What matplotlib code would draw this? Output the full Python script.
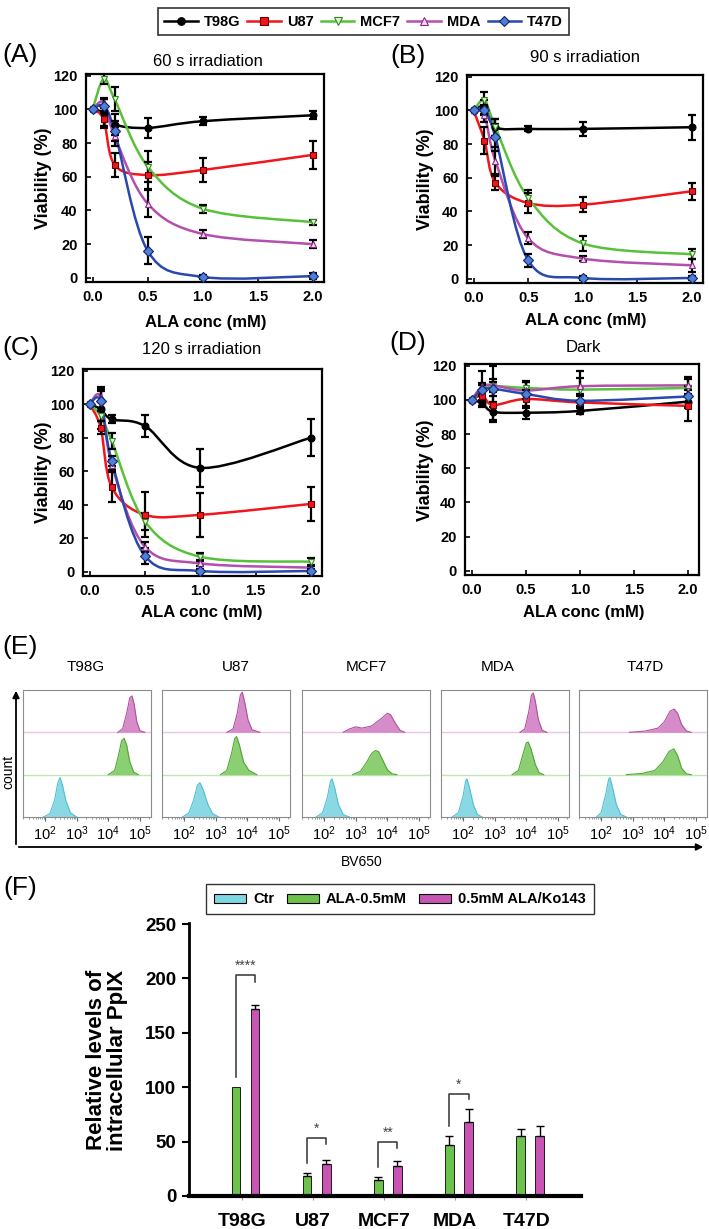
import numpy as np
import matplotlib
matplotlib.use('Agg')
import matplotlib.pyplot as plt
from matplotlib.path import Path
from matplotlib.patches import PathPatch, Patch, FancyArrowPatch
from matplotlib.lines import Line2D
from matplotlib.ticker import FormatStrFormatter, LogLocator, NullFormatter

plt.rcParams['font.family'] = ['Liberation Sans', 'DejaVu Sans']
plt.rcParams['mathtext.fontset'] = 'custom'
plt.rcParams['mathtext.rm'] = 'Liberation Sans'
plt.rcParams['mathtext.it'] = 'Liberation Sans:italic'
plt.rcParams['mathtext.bf'] = 'Liberation Sans:bold'

# ---------------- data ----------------
cell_lines = ['T98G', 'U87', 'MCF7', 'MDA', 'T47D']
ala_conc = [0.0, 0.1, 0.2, 0.5, 1.0, 2.0]

# viability (%), rows follow cell_lines
viab_60s = [
    [100, 98, 91, 89, 93, 96.5],
    [100, 94, 67, 61, 64, 73],
    [100, 118, 106, 66, 41, 33],
    [100, 104, 84, 44, 26, 20],
    [100, 102, 87, 16, 0.5, 1],
]
err_60s = [
    [0, 8, 6, 6, 2.5, 2.5],
    [0, 5, 7, 8, 7, 8.5],
    [0, 3, 7, 9, 2.5, 1.5],
    [0, 3, 6, 8, 2.5, 2.5],
    [0, 4, 6, 8, 1, 2],
]
viab_90s = [
    [100, 102, 90, 89, 89, 90],
    [100, 82, 57, 45, 44, 52],
    [100, 106, 90, 48, 21, 14.5],
    [100, 97, 70, 24, 12, 8],
    [100, 100, 84, 11, 0.5, 0.5],
]
err_90s = [
    [0, 4, 5, 1.5, 4, 7.5],
    [0, 8, 4, 6, 4.5, 5],
    [0, 5, 5, 5, 4.5, 3],
    [0, 4, 8, 3.5, 1.5, 4],
    [0, 3, 8, 4, 1, 1],
]
viab_120s = [
    [100, 97, 91, 87, 62, 80],
    [100, 86, 50.5, 34, 34, 40.5],
    [100, 93, 78, 30, 9, 6],
    [100, 104, 64, 15, 5, 2.5],
    [100, 102, 66, 9.5, 0.5, 0.5],
]
err_120s = [
    [0, 12, 2.5, 6.5, 11.5, 11],
    [0, 4, 9, 13.5, 13, 10],
    [0, 3, 5, 5, 2, 2.5],
    [0, 6, 3, 3, 1.5, 1.5],
    [0, 6, 3, 5, 1, 1],
]
viab_dark = [
    [100, 98, 93, 92.5, 93.5, 99],
    [100, 102.5, 97, 100.5, 98.5, 96.5],
    [100, 106, 108, 107, 106, 107],
    [100, 108, 108.5, 105.5, 108, 108.5],
    [100, 106, 106.5, 103.5, 99.5, 102],
]
err_dark = [
    [0, 2, 6, 3.5, 2, 4],
    [0, 6, 9, 5, 5, 9],
    [0, 4, 12, 4, 7, 5],
    [0, 9, 4, 5, 9, 5],
    [0, 3, 4, 7, 3, 6],
]
panel_titles = ['60 s irradiation', '90 s irradiation', '120 s irradiation', 'Dark']

# flow cytometry histograms: (log10 BV650, relative count)
hist_ctr = [
    [(1.95, 0), (2.15, 0.08), (2.3, 0.4), (2.4, 0.8), (2.47, 0.93), (2.55, 0.75), (2.65, 0.4), (2.8, 0.1), (3.0, 0)],
    [(1.95, 0), (2.15, 0.1), (2.3, 0.4), (2.42, 0.75), (2.5, 0.81), (2.6, 0.65), (2.75, 0.3), (2.9, 0.08), (3.1, 0)],
    [(1.75, 0), (1.95, 0.1), (2.1, 0.45), (2.2, 0.85), (2.25, 0.9), (2.33, 0.7), (2.45, 0.3), (2.6, 0.06), (2.8, 0)],
    [(1.65, 0), (1.85, 0.1), (2.0, 0.5), (2.08, 0.85), (2.12, 0.9), (2.2, 0.7), (2.32, 0.3), (2.45, 0.06), (2.6, 0)],
    [(1.85, 0), (2.0, 0.1), (2.15, 0.55), (2.24, 0.9), (2.28, 0.93), (2.36, 0.7), (2.48, 0.3), (2.62, 0.06), (2.8, 0)],
]
hist_ala = [
    [(4.0, 0), (4.2, 0.1), (4.32, 0.45), (4.42, 0.8), (4.5, 0.86), (4.58, 0.7), (4.68, 0.3), (4.8, 0.06), (4.95, 0)],
    [(3.15, 0), (3.35, 0.1), (3.5, 0.5), (3.6, 0.85), (3.66, 0.9), (3.75, 0.7), (3.88, 0.3), (4.05, 0.1), (4.3, 0)],
    [(2.9, 0), (3.15, 0.08), (3.35, 0.3), (3.5, 0.5), (3.62, 0.57), (3.72, 0.55), (3.85, 0.35), (4.0, 0.12), (4.15, 0.02), (4.3, 0)],
    [(3.55, 0), (3.75, 0.1), (3.9, 0.5), (4.0, 0.75), (4.06, 0.77), (4.15, 0.6), (4.28, 0.25), (4.4, 0.05), (4.55, 0)],
    [(2.8, 0), (3.3, 0.03), (3.7, 0.1), (3.95, 0.3), (4.15, 0.55), (4.3, 0.61), (4.42, 0.45), (4.55, 0.15), (4.7, 0.02), (4.85, 0)],
]
hist_ko = [
    [(4.3, 0), (4.45, 0.08), (4.58, 0.45), (4.68, 0.82), (4.75, 0.86), (4.82, 0.65), (4.9, 0.25), (5.0, 0.04), (5.15, 0)],
    [(3.35, 0), (3.55, 0.08), (3.68, 0.45), (3.78, 0.88), (3.84, 0.95), (3.92, 0.7), (4.02, 0.3), (4.15, 0.06), (4.4, 0)],
    [(2.6, 0), (2.8, 0.08), (3.0, 0.13), (3.2, 0.1), (3.5, 0.15), (3.8, 0.32), (4.0, 0.45), (4.1, 0.42), (4.25, 0.22), (4.4, 0.05), (4.55, 0)],
    [(3.8, 0), (3.95, 0.08), (4.08, 0.5), (4.16, 0.88), (4.22, 0.93), (4.28, 0.75), (4.38, 0.3), (4.5, 0.05), (4.65, 0)],
    [(2.9, 0), (3.4, 0.03), (3.8, 0.1), (4.0, 0.25), (4.18, 0.5), (4.31, 0.55), (4.42, 0.45), (4.55, 0.18), (4.7, 0.03), (4.85, 0)],
]

# relative intracellular PpIX (panel F)
ppix_ctr = [0.5, 1.2, 0.5, 0.5, 0.5]
ppix_ala = [100, 18, 15, 47, 55.5]
ppix_ala_err = [0, 3, 2.5, 8, 6.5]
ppix_ko = [172, 29, 27.5, 68, 55]
ppix_ko_err = [4, 4, 4.5, 12, 9]
sig_marks = ['****', '*', '**', '*']
sig_top = [203, 53.5, 50, 94]

# ---------------- layout helpers (pixel based) ----------------
W, H = 709, 1229


def fx(x):
    return x / W


def fy(y):
    return 1 - y / H


def box(l, t, r, b):
    return [fx(l), fy(b), (r - l) / W, (b - t) / H]


def smooth_path(x, y):
    """Smoothed line through the points (cubic Bezier, like a spreadsheet 'smooth line')."""
    pts = np.column_stack([x, y]).astype(float)
    n = len(pts)
    verts = [pts[0]]
    codes = [Path.MOVETO]
    for i in range(n - 1):
        p0 = pts[max(i - 1, 0)]
        p1 = pts[i]
        p2 = pts[i + 1]
        p3 = pts[min(i + 2, n - 1)]
        verts += [p1 + (p2 - p0) / 6, p2 - (p3 - p1) / 6, p2]
        codes += [Path.CURVE4] * 3
    return Path(verts, codes)


series_style = [
    dict(color='black', marker='o', mfc='black', mec='black'),
    dict(color='#f0161c', marker='s', mfc='#f0161c', mec='#6b0000'),
    dict(color='#58c13a', marker='v', mfc='#e2f4d8', mec='#2e8a1e'),
    dict(color='#b34fae', marker='^', mfc='#f3d6f0', mec='#8a2c86'),
    dict(color='#2a48ad', marker='D', mfc='#4d7fd6', mec='#13226e'),
]


def draw_viability(ax, values, errors):
    for vals, st in zip(values, series_style):
        ax.add_patch(PathPatch(smooth_path(ala_conc, vals), fill=False,
                               edgecolor=st['color'], lw=1.8, zorder=2))
    for vals, errs in zip(values, errors):
        x = [a for a, e in zip(ala_conc, errs) if e > 0]
        y = [v for v, e in zip(vals, errs) if e > 0]
        e = [e for e in errs if e > 0]
        ax.errorbar(x, y, yerr=e, fmt='none', ecolor='black', elinewidth=1.6,
                    capsize=3, capthick=1.6, zorder=3)
    for vals, st in zip(values, series_style):
        ax.plot(ala_conc, vals, ls='none', marker=st['marker'], ms=5,
                mfc=st['mfc'], mec=st['mec'], mew=0.8, zorder=4)
    ax.set_xlim(-0.06, 2.1)
    ax.set_ylim(-2.5, 121)
    ax.set_xticks([0, 0.5, 1.0, 1.5, 2.0])
    ax.xaxis.set_major_formatter(FormatStrFormatter('%.1f'))
    ax.set_yticks(range(0, 121, 20))
    ax.tick_params(direction='in', length=3.5, width=1.2, labelsize=10.5, pad=6)
    for lab in ax.get_xticklabels() + ax.get_yticklabels():
        lab.set_fontweight('bold')
    for sp in ax.spines.values():
        sp.set_linewidth(1.6)


fig = plt.figure(figsize=(W / 100, H / 100), dpi=100)

# ---------------- panels A-D ----------------
viab_boxes = [(86, 74, 324, 282), (467, 75, 703, 283), (83, 369, 322, 576), (465, 364, 699, 575)]
viab_sets = [(viab_60s, err_60s), (viab_90s, err_90s), (viab_120s, err_120s), (viab_dark, err_dark)]
for bx, (vals, errs) in zip(viab_boxes, viab_sets):
    ax = fig.add_axes(box(*bx))
    draw_viability(ax, vals, errs)

for (x, y), t in zip([(208, 62), (585, 58), (202, 350), (583, 348)], panel_titles):
    fig.text(fx(x), fy(y), t, fontsize=12, ha='center', va='center')
for x, y in [(43, 178), (426, 179), (43, 472), (426, 470)]:
    fig.text(fx(x), fy(y), 'Viability (%)', fontsize=13, fontweight='bold',
             rotation=90, ha='center', va='center')
for x, y in [(206, 322), (586, 320), (202, 613), (584, 613)]:
    fig.text(fx(x), fy(y), 'ALA conc (mM)', fontsize=12, fontweight='bold',
             ha='center', va='center')
for (x, y), t in zip([(20, 55), (408, 56), (21, 348), (408, 343), (20, 647), (20, 888)],
                     ['(A)', '(B)', '(C)', '(D)', '(E)', '(F)']):
    fig.text(fx(x), fy(y), t, fontsize=19, ha='center', va='center')

handles = [Line2D([], [], color=st['color'], marker=st['marker'], ms=5.5, lw=1.8,
                  mfc=st['mfc'], mec=st['mec'], mew=0.8) for st in series_style]
leg = fig.legend(handles, cell_lines, loc='upper center', bbox_to_anchor=(fx(363.5), fy(1)),
                 ncol=5, prop={'weight': 'bold', 'size': 10.5}, frameon=True, fancybox=False,
                 edgecolor='black', handlelength=2.3, handletextpad=0.4, columnspacing=0.5,
                 borderpad=0.45)
leg.get_frame().set_linewidth(1.2)

# ---------------- panel E ----------------
row_fill = ['#8ad8e4', '#8ccf72', '#d68cc8']
row_edge = ['#4fc0d2', '#4fa635', '#b0509e']
box_lefts = [23, 162, 302, 441, 579]
label_x = [86, 236, 366, 498, 645]
for i, left in enumerate(box_lefts):
    ax = fig.add_axes(box(left, 690, left + 128, 817))
    ax.set_xscale('log')
    ax.axhline(1, color='#c3e6b5', lw=1.0, zorder=1)
    ax.axhline(2, color='#eec3e6', lw=1.0, zorder=1)
    for base, hist in enumerate([hist_ctr[i], hist_ala[i], hist_ko[i]]):
        lx = np.array([p[0] for p in hist])
        hv = np.array([p[1] for p in hist])
        ax.fill_between(10 ** lx, base, base + hv, color=row_fill[base], lw=0, zorder=2)
        ax.plot(10 ** lx, base + hv, color=row_edge[base], lw=0.8, zorder=3)
    ax.set_xlim(10 ** 1.3, 10 ** 5.35)
    ax.set_ylim(0, 3)
    ax.set_yticks([])
    ax.xaxis.set_major_locator(LogLocator(base=10, numticks=10))
    ax.xaxis.set_minor_locator(LogLocator(base=10, subs=np.arange(2, 10), numticks=10))
    ax.xaxis.set_minor_formatter(NullFormatter())
    ax.tick_params(axis='x', which='major', direction='out', length=3, width=0.8,
                   color='#666666', labelsize=10.5, pad=2)
    ax.tick_params(axis='x', which='minor', direction='out', length=1.5, width=0.6,
                   color='#888888')
    for sp in ax.spines.values():
        sp.set_color('#8c8c8c')
        sp.set_linewidth(0.8)
    fig.text(fx(label_x[i]), fy(667), cell_lines[i], fontsize=11, ha='center', va='center')

fig.add_artist(FancyArrowPatch((fx(16), fy(847)), (fx(16), fy(688)), transform=fig.transFigure,
                               arrowstyle='-|>', mutation_scale=10, lw=1.3, color='black'))
fig.add_artist(FancyArrowPatch((fx(16), fy(847)), (fx(706), fy(847)), transform=fig.transFigure,
                               arrowstyle='-|>', mutation_scale=10, lw=1.3, color='black'))
fig.text(fx(8), fy(772), 'count', fontsize=10, rotation=90, ha='center', va='center')
fig.text(fx(362), fy(862), 'BV650', fontsize=10, ha='center', va='center')

# ---------------- panel F ----------------
axf = fig.add_axes(box(189, 923, 581, 1196))
idx = np.arange(len(cell_lines))
bar_w = 0.12
offsets = [-0.36, -0.08, 0.19]
colors_f = ['#7fd6e3', '#6cc24a', '#c855b4']
axf.bar(idx + offsets[0], ppix_ctr, bar_w, color=colors_f[0], edgecolor='black', lw=0.6, zorder=2)
axf.bar(idx + offsets[1], ppix_ala, bar_w, color=colors_f[1], edgecolor='black', lw=0.6, zorder=2)
axf.bar(idx + offsets[2], ppix_ko, bar_w, color=colors_f[2], edgecolor='black', lw=0.6, zorder=2)
for off, vals, errs in [(offsets[1], ppix_ala, ppix_ala_err), (offsets[2], ppix_ko, ppix_ko_err)]:
    keep = [j for j, e in enumerate(errs) if e > 0]
    axf.errorbar(idx[keep] + off, [vals[j] for j in keep],
                 yerr=[[0] * len(keep), [errs[j] for j in keep]],
                 fmt='none', ecolor='black', elinewidth=1.0, capsize=3, capthick=1.0, zorder=3)

for j, (mark, top) in enumerate(zip(sig_marks, sig_top)):
    xl = j + offsets[1]
    xr = j + offsets[2]
    left_end = ppix_ala[j] + ppix_ala_err[j] + 9
    right_end = max(ppix_ko[j] + ppix_ko_err[j] + 9, top - 6)
    axf.plot([xl, xl, xr, xr], [left_end, top, top, right_end], color='#333333', lw=1.1, zorder=3)
    axf.text((xl + xr) / 2, top + 2, mark, fontsize=10, color='#444444', ha='center', va='bottom')

axf.set_xlim(-0.74, 4.77)
axf.set_ylim(0, 251)
axf.set_yticks(range(0, 251, 50))
axf.set_xticks(idx)
axf.set_xticklabels(cell_lines)
axf.spines['top'].set_visible(False)
axf.spines['right'].set_visible(False)
axf.spines['left'].set_linewidth(2.0)
axf.spines['bottom'].set_linewidth(3.0)
axf.tick_params(axis='y', direction='out', length=5, width=1.5, labelsize=13.5, pad=4)
axf.tick_params(axis='x', direction='out', length=3, width=0.8, color='#999999',
                labelsize=14, pad=9)
for lab in axf.get_xticklabels() + axf.get_yticklabels():
    lab.set_fontweight('bold')
fig.text(fx(107), fy(1060), 'Relative levels of\nintracellular PpIX', fontsize=16,
         fontweight='bold', rotation=90, ha='center', va='center', linespacing=1.0)

f_handles = [Patch(facecolor=c, edgecolor='black', lw=0.8) for c in colors_f]
leg_f = fig.legend(f_handles, ['Ctr', 'ALA-0.5mM', '0.5mM ALA/Ko143'], loc='upper center',
                   bbox_to_anchor=(fx(400), fy(877)), ncol=3,
                   prop={'weight': 'bold', 'size': 10.5}, frameon=True, fancybox=False,
                   edgecolor='black', handlelength=2.2, handleheight=0.6, handletextpad=0.5,
                   columnspacing=0.8, borderpad=0.55)
leg_f.get_frame().set_linewidth(1.0)

fig.savefig('out.png', dpi=100)
